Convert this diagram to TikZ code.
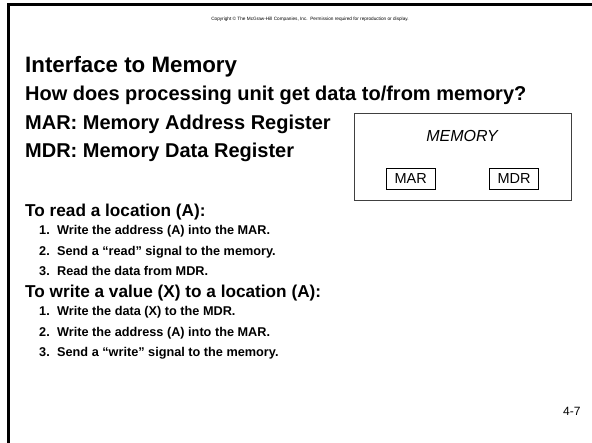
\documentclass[tikz,border=0pt]{standalone}
\usepackage{fontspec}
\setmainfont{Liberation Sans}
\begin{document}
\begin{tikzpicture}[x=1pt,y=-1pt,
  heading/.style={anchor=base west,inner sep=0pt,font=\bfseries\fontsize{20}{24}\selectfont},
  subhead/.style={anchor=base west,inner sep=0pt,font=\bfseries\fontsize{17.2}{21}\selectfont},
  item/.style={anchor=base west,inner sep=0pt,font=\bfseries\fontsize{12.7}{15}\selectfont},
  reg/.style={draw,line width=0.8pt,inner sep=0pt,minimum width=48.5pt,minimum height=21.5pt,font=\fontsize{14.5}{17}\selectfont}]
\useasboundingbox (0,0) rectangle (592,442);
\fill[white] (0,0) rectangle (592,442);
% slide frame (top and left edges)
\draw[line width=2.6pt,line cap=rect] (8.5,442) -- (8.5,4.5) -- (592,4.5);
% copyright line
\node[inner sep=0pt,font=\fontsize{4.7}{6}\selectfont] (copy) at (310,19)
  {Copyright \textcopyright{} The McGraw-Hill Companies, Inc.\ \ Permission required for reproduction or display.};
% title and introduction
\node[anchor=base west,inner sep=0pt,font=\bfseries\fontsize{22.3}{26}\selectfont] (title) at (25,72) {Interface to Memory};
\node[heading] (q) at (25,100) {How does processing unit get data to/from memory?};
\node[heading] (mar) at (25,129) {MAR: Memory Address Register};
\node[heading] (mdr) at (25,157) {MDR: Memory Data Register};
% memory block with its two registers
\draw[line width=0.8pt,draw=black!75] (354,113) rectangle (571,200);
\node[inner sep=0pt,font=\itshape\fontsize{16}{19}\selectfont] (memlabel) at (462,135.5) {MEMORY};
\node[reg] (marbox) at (410.7,178.7) {MAR};
\node[reg] (mdrbox) at (514.1,178.7) {MDR};
% read procedure
\node[subhead] (rd) at (25,216) {To read a location (A):};
\node[item] (r1n) at (39,234.5) {1.};
\node[item] (r1) at (57,234.5) {Write the address (A) into the MAR.};
\node[item] (r2n) at (39,255) {2.};
\node[item] (r2) at (57,255) {Send a \textquotedblleft read\textquotedblright{} signal to the memory.};
\node[item] (r3n) at (39,275.5) {3.};
\node[item] (r3) at (57,275.5) {Read the data from MDR.};
% write procedure
\node[subhead] (wr) at (25,297) {To write a value (X) to a location (A):};
\node[item] (w1n) at (39,315.5) {1.};
\node[item] (w1) at (57,315.5) {Write the data (X) to the MDR.};
\node[item] (w2n) at (39,336) {2.};
\node[item] (w2) at (57,336) {Write the address (A) into the MAR.};
\node[item] (w3n) at (39,356.5) {3.};
\node[item] (w3) at (57,356.5) {Send a \textquotedblleft write\textquotedblright{} signal to the memory.};
% page number
\node[anchor=base west,inner sep=0pt,font=\fontsize{12}{14}\selectfont] (pg) at (563,415.5) {4-7};
\end{tikzpicture}
\end{document}
